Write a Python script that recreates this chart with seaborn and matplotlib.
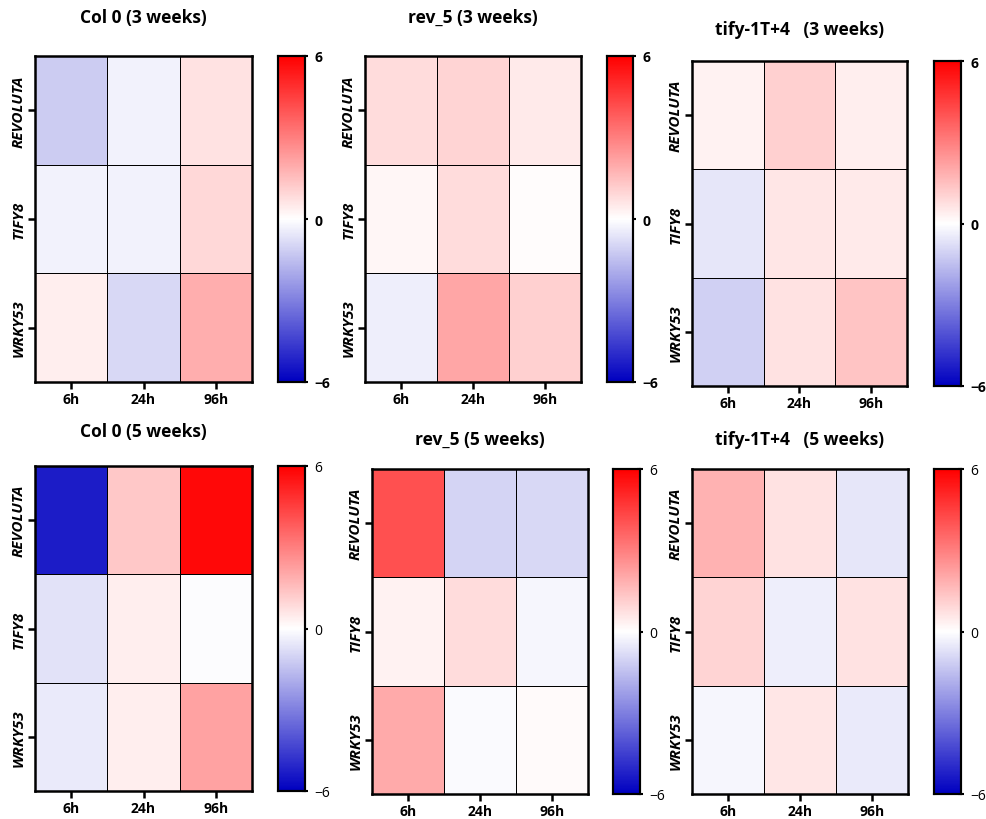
import numpy as np
import pandas as pd
import matplotlib
matplotlib.use("Agg")
import matplotlib.pyplot as plt
import seaborn as sns
from matplotlib.colors import LinearSegmentedColormap

sns.set_style("white")
plt.rcParams['font.family'] = ['Open Sans', 'DejaVu Sans']
plt.rcParams['text.color'] = 'black'
plt.rcParams['xtick.color'] = 'black'
plt.rcParams['ytick.color'] = 'black'

genes = ["REVOLUTA", "TIFY8", "WRKY53"]
times = ["6h", "24h", "96h"]
titles = ["Col 0 (3 weeks)", "rev_5 (3 weeks)", "tify-1T+4   (3 weeks)",
          "Col 0 (5 weeks)", "rev_5 (5 weeks)", "tify-1T+4   (5 weeks)"]

# log2 fold change, rows = genes, columns = times
col0_3w = [[-1.2, -0.3, 0.7], [-0.3, -0.3, 0.9], [0.4, -0.9, 1.9]]
rev5_3w = [[0.8, 1.0, 0.5], [0.2, 0.8, 0.05], [-0.4, 2.1, 1.1]]
tify_3w = [[0.3, 1.1, 0.4], [-0.6, 0.6, 0.5], [-1.1, 0.7, 1.4]]
col0_5w = [[-5.3, 1.3, 5.8], [-0.7, 0.4, -0.05], [-0.5, 0.4, 2.2]]
rev5_5w = [[4.1, -1.0, -0.9], [0.3, 0.8, -0.2], [2.0, -0.1, 0.1]]
tify_5w = [[1.8, 0.7, -0.6], [1.0, -0.4, 0.7], [-0.2, 0.6, -0.5]]
panels = [col0_3w, rev5_3w, tify_3w, col0_5w, rev5_5w, tify_5w]

cmap = LinearSegmentedColormap.from_list("bwr6", ["#0000C0", "#FFFFFF", "#FF0000"])

W, H = 987, 820
fig = plt.figure(figsize=(W / 100, H / 100), dpi=100)

def px(x0, y0, x1, y1):
    return [x0 / W, 1 - y1 / H, (x1 - x0) / W, (y1 - y0) / H]

# heatmap box, colorbar box, title y (pixels)
boxes = [
    ((35, 57, 252, 383), (278, 57, 305, 383), 18),
    ((365, 57, 581, 383), (607, 57, 633, 383), 18),
    ((692, 62, 907, 387), (934, 62, 961, 387), 30),
    ((35, 467, 252, 792), (278, 467, 305, 792), 432),
    ((372, 470, 588, 795), (613, 470, 640, 795), 440),
    ((692, 470, 908, 795), (934, 470, 961, 795), 440),
]

for i, (vals, title, (hb, cb, ty)) in enumerate(zip(panels, titles, boxes)):
    df = pd.DataFrame(vals, index=genes, columns=times)
    ax = fig.add_axes(px(*hb))
    cax = fig.add_axes(px(*cb))
    sns.heatmap(df, ax=ax, cbar_ax=cax, cmap=cmap, vmin=-6, vmax=6,
                linewidths=0.6, linecolor="black",
                cbar_kws={"ticks": [-6, 0, 6]})
    for s in ax.spines.values():
        s.set_visible(True)
        s.set_linewidth(1.8)
        s.set_color("black")
    ax.tick_params(axis="both", length=5, width=1.8, direction="out",
                   left=True, bottom=True, pad=2)
    ax.set_xticklabels(times, fontsize=10, fontweight="bold")
    ax.set_yticklabels(genes, fontsize=11, fontweight="bold",
                       fontstyle="italic", rotation=90, va="center")
    ax.set_xlabel("")
    ax.set_ylabel("")
    cx = (hb[0] + hb[2]) / 2 / W
    fig.text(cx, 1 - ty / H, title, ha="center", va="center",
             fontsize=12.5, fontweight="bold")
    cax.tick_params(length=5, width=1.5, direction="inout", pad=4)
    for s in cax.spines.values():
        s.set_visible(True)
        s.set_linewidth(1.5)
        s.set_color("black")
    cw = "bold" if i < 3 else "normal"
    cax.set_yticklabels(["\u22126", "0", "6"], fontsize=10, fontweight=cw)

fig.savefig("out.png", dpi=100)
